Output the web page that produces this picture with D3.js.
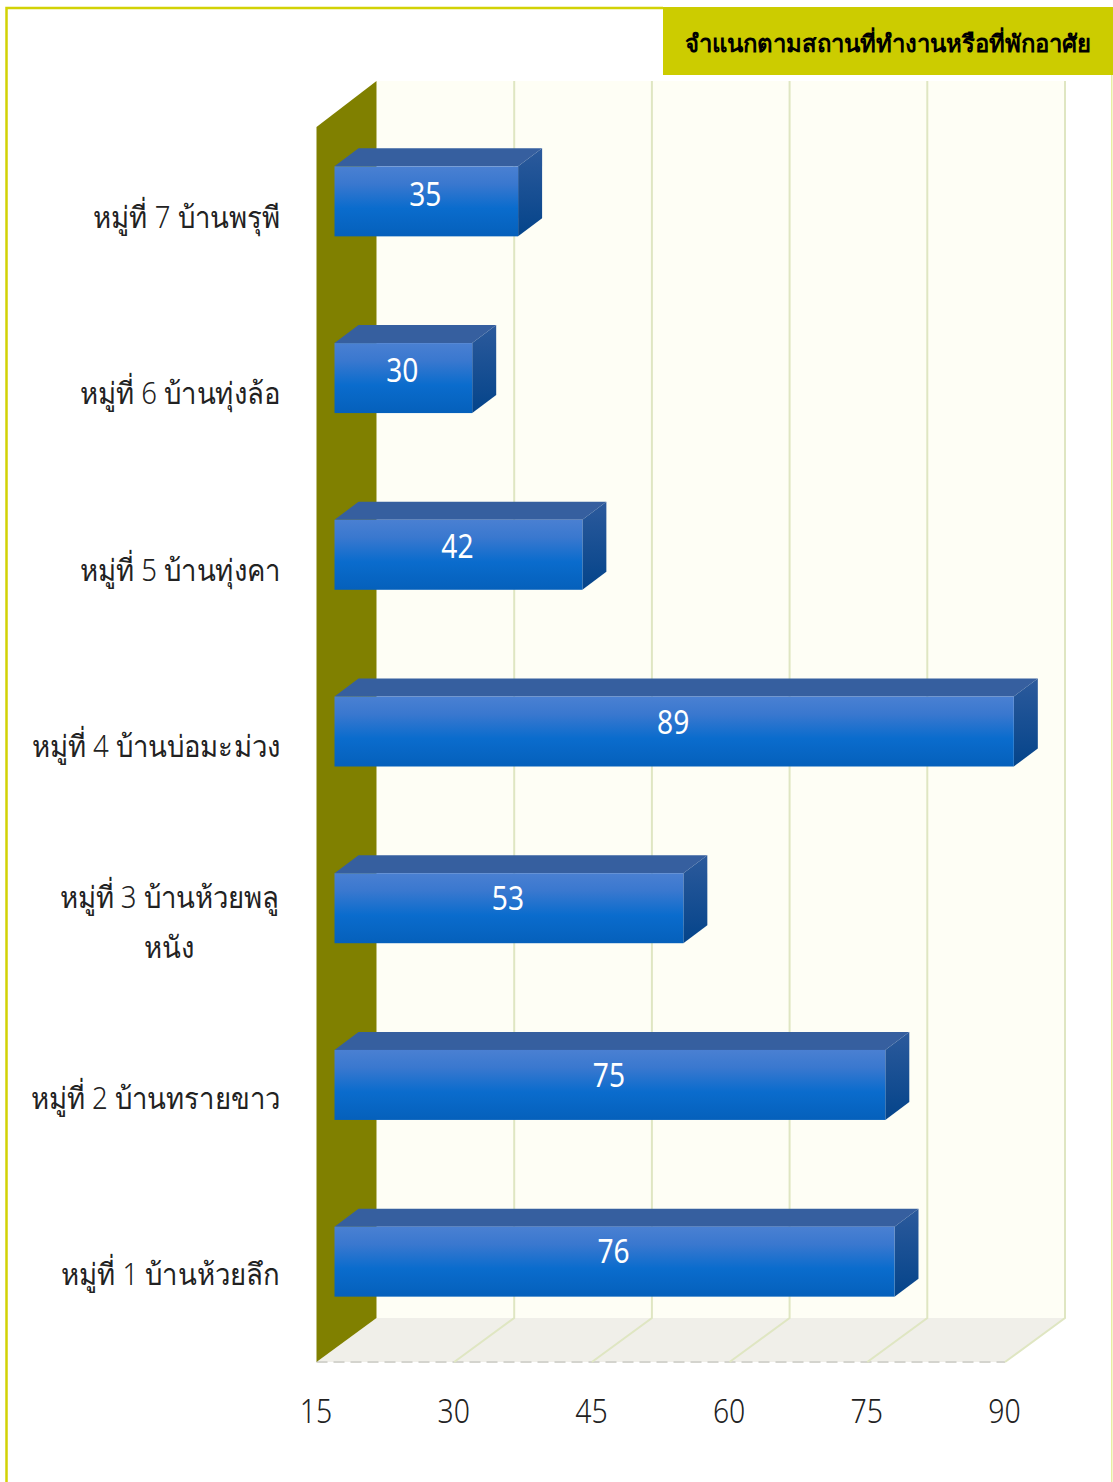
<!DOCTYPE html>
<html><head><meta charset="utf-8">
<script src="https://cdn.jsdelivr.net/npm/d3@7"></script>
<style>html,body{margin:0;padding:0;background:#fff}svg{display:block}
text{font-family:"Noto Sans","Open Sans",sans-serif}</style></head><body>
<div id="chart"></div>
<script>
const titleText = "จำแนกตามสถานที่ทำงานหรือที่พักอาศัย";
const categories = ["หมู่ที่ 7 บ้านพรุพี","หมู่ที่ 6 บ้านทุ่งล้อ","หมู่ที่ 5 บ้านทุ่งคา","หมู่ที่ 4 บ้านบ่อมะม่วง","หมู่ที่ 3 บ้านห้วยพลู หนัง","หมู่ที่ 2 บ้านทรายขาว","หมู่ที่ 1 บ้านห้วยลึก"];
const values = [35,30,42,89,53,75,76];
const xTicks = [15,30,45,60,75,90];

const W=1113,H=1482;
const svg=d3.select("#chart").append("svg").attr("width",W).attr("height",H);
const x=d3.scaleLinear().domain([15,90]).range([316.5,1005]);
const y=d3.scaleBand().domain(categories).range([127,1364]);
const yValueLabel=d3.scaleBand().domain(categories).range([106,1339.4]);
const yCatLabel=d3.scaleBand().domain(categories).range([128,1361.4]);
const wallDx=60,wallDy=-44,wallTop=81, barFrontDx=18, barFrontDy=-14, barDepthDx=24, barDepthDy=-18, barH=70;
const top0=127, bot0=1362;

const defs=svg.append("defs");
function grad(id,stops){const g=defs.append("linearGradient").attr("id",id).attr("x1",0).attr("y1",0).attr("x2",0).attr("y2",1);
 stops.forEach(s=>g.append("stop").attr("offset",s[0]).attr("stop-color",s[1]));}
grad("front",[[0,"#4a80d2"],[.25,"#3a78cf"],[.6,"#0a6ccd"],[1,"#0560bb"]]);
grad("side",[[0,"#2c5a9c"],[1,"#04448a"]]);

// frame
svg.append("path").attr("d",`M6.5,${H} V8 H663`).attr("fill","none").attr("stroke","#d2d205").attr("stroke-width",2.5);
svg.append("rect").attr("x",1111).attr("y",8).attr("width",1.5).attr("height",H-8).attr("fill","#e8eda0");

// back wall
svg.append("rect").attr("x",x(15)+wallDx).attr("y",wallTop).attr("width",x(90)-x(15)).attr("height",bot0+wallDy-wallTop).attr("fill","#fefef5");
// floor
svg.append("path").attr("d",`M${x(15)},${bot0} L${x(15)+wallDx},${bot0+wallDy} H${x(90)+wallDx} L${x(90)},${bot0} Z`).attr("fill","#f0efe9");
svg.append("line").attr("x1",x(15)).attr("x2",x(90)).attr("y1",bot0).attr("y2",bot0).attr("stroke","#d4d4ce").attr("stroke-width",2).attr("stroke-dasharray","11 6");
// grid
svg.append("g").selectAll("path").data(xTicks.slice(1)).join("path")
 .attr("d",d=>`M${x(d)},${bot0} L${x(d)+wallDx},${bot0+wallDy} V${wallTop}`)
 .attr("fill","none").attr("stroke","#dfe6c2").attr("stroke-width",2);
// left wall
svg.append("path").attr("d",`M${x(15)},${top0} L${x(15)+wallDx},${wallTop} V${bot0+wallDy} L${x(15)},${bot0} Z`).attr("fill","#808000");

// bars
const rows=categories.map((c,i)=>({c,v:values[i]}));
const bars=svg.append("g").selectAll("g").data(rows).join("g");
const fx0=d=>x(15)+barFrontDx, fx1=d=>x(d.v)+barFrontDx;
const fy0=d=>y(d.c)+y.bandwidth()/2+barFrontDy-barH/2;
bars.append("path").attr("d",d=>`M${fx0(d)},${fy0(d)} L${fx0(d)+barDepthDx},${fy0(d)+barDepthDy} H${fx1(d)+barDepthDx} L${fx1(d)},${fy0(d)} Z`).attr("fill","#365f9f");
bars.append("path").attr("d",d=>`M${fx1(d)},${fy0(d)} L${fx1(d)+barDepthDx},${fy0(d)+barDepthDy} V${fy0(d)+barDepthDy+barH} L${fx1(d)},${fy0(d)+barH} Z`).attr("fill","url(#side)");
bars.append("rect").attr("x",fx0).attr("y",fy0).attr("width",d=>fx1(d)-fx0(d)).attr("height",barH).attr("fill","url(#front)");
bars.append("text").attr("text-anchor","middle").attr("fill","#fff").attr("font-size",29).attr("font-weight",400)
 .attr("transform",d=>`translate(${(fx0(d)+fx1(d))/2-1},${yValueLabel(d.c)+yValueLabel.bandwidth()/2+11.5}) scale(.97,1.12)`).text(d=>d.v);

// category labels
const lab=svg.append("g").selectAll("g").data(categories).join("g");
lab.each(function(c){
 const g=d3.select(this), cy=yCatLabel(c)+yCatLabel.bandwidth()/2;
 const parts=c==="หมู่ที่ 3 บ้านห้วยพลู หนัง"?["หมู่ที่ 3 บ้านห้วยพลู","หนัง"]:[c];
 parts.forEach((p,i)=>{
  const px=parts.length===1?280:169.5, py=parts.length===1?cy+12:cy-26+i*50+13;
  g.append("text").attr("font-size",29).attr("font-weight",300).attr("fill","#222")
   .attr("text-anchor",parts.length===1?"end":"middle")
   .attr("transform",`translate(${px},${py}) scale(.95,1.05)`).text(p);
 });
});

// x axis
const axis=svg.append("g").attr("transform",`translate(-1,1384)`).call(d3.axisBottom(x).tickValues(xTicks).tickSize(0).tickPadding(0));
axis.select(".domain").remove();
axis.selectAll("text").attr("font-size",29).attr("font-weight",300).attr("fill","#222").attr("font-family",'"Noto Sans","Open Sans",sans-serif')
 .attr("dy",0).attr("y",0).attr("transform","translate(0,38.5) scale(.98,1.12)");

// title
svg.append("rect").attr("x",663).attr("y",7).attr("width",450).attr("height",68).attr("fill","#cccc00");
svg.append("text").attr("x",888).attr("y",52).attr("text-anchor","middle").attr("font-size",23.9).attr("font-weight",700).attr("fill","#000").text(titleText);
</script></body></html>
